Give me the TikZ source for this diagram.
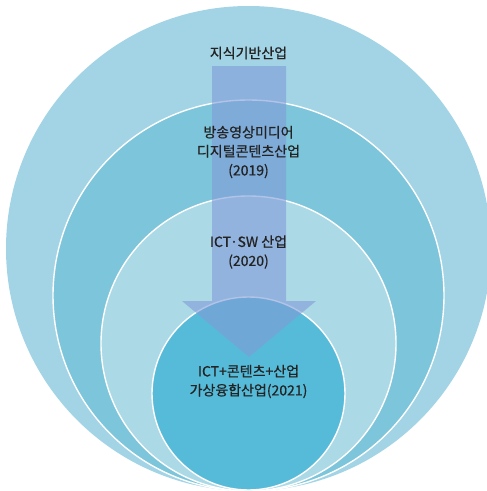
\documentclass[tikz,border=0pt]{standalone}
\usepackage{fontspec}
\newfontfamily\krfont[FakeBold=0.7]{Noto Sans CJK KR}
\definecolor{ringA}{RGB}{162,212,230}
\definecolor{ringB}{RGB}{125,197,218}
\definecolor{ringC}{RGB}{172,217,230}
\definecolor{ringD}{RGB}{86,187,217}
\definecolor{arrowfill}{RGB}{128,155,215}
\definecolor{txt}{RGB}{35,35,35}
\tikzset{
  ring/.style={draw=white,line width=1.4pt},
  lbl/.style={font=\krfont\fontsize{14}{19}\selectfont,text=txt,align=center,inner sep=0pt},
  bigarrow/.style={fill=arrowfill,fill opacity=0.6,draw=none}
}
\begin{document}
\begin{tikzpicture}[x=1pt,y=-1pt]
\useasboundingbox (0,0) rectangle (487,491);
\clip (0,0) rectangle (487,491);
% rings
\fill[ringA] (248.5,248.5) circle (242.5);
\draw[ring,fill=ringB] (248.5,295.5) circle (195.5);
\draw[ring,fill=ringC] (248.5,343.5) circle (147.5);
\draw[ring,fill=ringD] (248.5,393.5) circle (96.5);
% arrow
\coordinate (shaftTL) at (212,66);
\coordinate (shaftTR) at (286,66);
\coordinate (tip) at (249,357);
\fill[bigarrow] (shaftTL) -- (shaftTR) -- (286,301) -- (316,301) -- (tip) -- (182,301) -- (212,301) -- cycle;
% labels
\node[lbl] (t1) at (248.5,53) {지식기반산업};
\node[lbl] (t2) at (248.5,152) {방송영상미디어\\디지털콘텐츠산업\\(2019)};
\node[lbl] (t3) at (248.5,252) {ICT·SW 산업\\(2020)};
\node[lbl] (t4) at (248.5,381.5) {ICT+콘텐츠+산업\\가상융합산업(2021)};
\end{tikzpicture}
\end{document}
